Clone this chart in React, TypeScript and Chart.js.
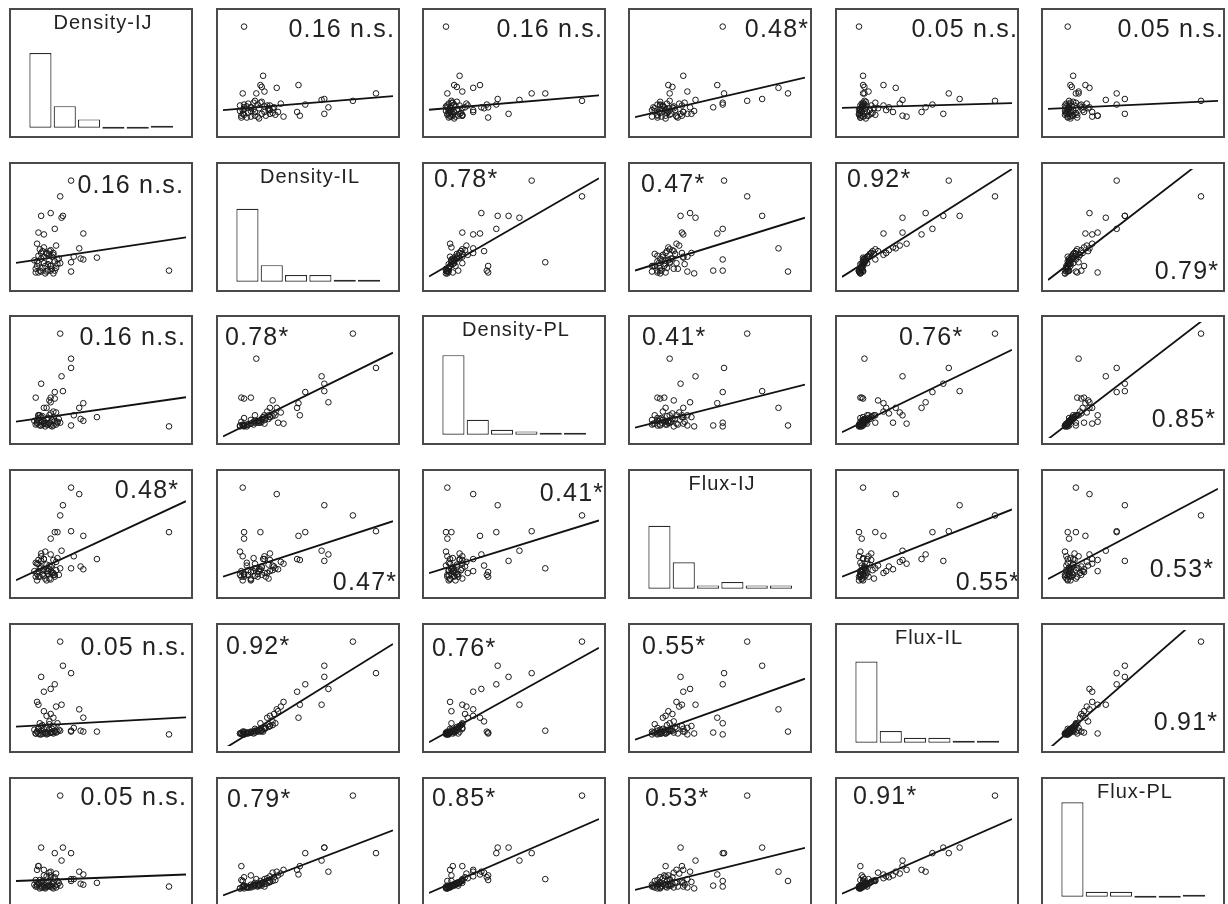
import React, { useEffect, useRef } from "react";
import { Chart, registerables } from "chart.js";

Chart.register(...registerables);

// ---------------- data ----------------
const VARIABLE_NAMES = ["Density-IJ", "Density-IL", "Density-PL", "Flux-IJ", "Flux-IL", "Flux-PL"];

// relative values (0 = site minimum, 100 = site maximum), one entry per site
const densityIJ = [100, 20, 28, 28, 28, 34, 22, 6, 16, 13, 8, 21, 37, 47, 30, 35, 4, 13, 18, 3, 8, 17, 13, 10, 15, 12, 16, 13, 2, 4, 37, 5, 7, 9, 11, 3, 6, 8, 12, 14, 10, 4, 15, 18, 2, 6, 9, 13, 16, 19, 7, 5, 11, 3, 8, 12, 14, 17, 20, 1, 10, 6, 15, 4];
const densityIL = [3, 83, 100, 12, 2, 27, 62, 62, 48, 65, 42, 60, 43, 17, 18, 16, 44, 3, 15, 32, 28, 30, 25, 22, 20, 24, 3, 8, 1, 1, 15, 3, 6, 8, 10, 13, 16, 11, 14, 18, 21, 19, 22, 10, 5, 2, 0, 8, 13, 16, 24, 26, 3, 8, 18, 21, 5, 6, 11, 14, 2, 22, 0, 11];
const densityPL = [0, 100, 63, 73, 1, 20, 38, 46, 37, 26, 20, 54, 25, 10, 12, 8, 12, 1, 4, 3, 4, 15, 14, 20, 16, 28, 30, 31, 31, 5, 6, 1, 2, 3, 2, 4, 5, 6, 4, 7, 8, 9, 10, 5, 2, 1, 0, 3, 6, 8, 11, 12, 9, 7, 3, 12, 0, 2, 4, 6, 2, 10, 1, 12];
const fluxIJ = [52, 70, 53, 13, 100, 93, 81, 21, 52, 28, 23, 32, 48, 23, 26, 15, 22, 45, 52, 18, 12, 20, 15, 10, 8, 16, 6, 9, 4, 10, 12, 4, 6, 2, 10, 7, 14, 5, 12, 8, 17, 4, 22, 24, 19, 26, 31, 1, 4, 6, 11, 13, 7, 0, 23, 2, 16, 11, 13, 10, 0, 29, 6, 18];
const fluxIL = [0, 100, 66, 4, 3, 27, 74, 62, 54, 49, 46, 32, 18, 3, 7, 4, 32, 2, 12, 35, 25, 30, 22, 20, 18, 14, 3, 2, 1, 1, 3, 0, 1, 2, 1, 3, 4, 2, 5, 6, 8, 7, 9, 3, 1, 0, 1, 2, 4, 5, 10, 12, 1, 3, 6, 11, 2, 2, 4, 5, 0, 9, 1, 6];
const fluxPL = [2, 100, 38, 10, 8, 18, 44, 44, 38, 18, 20, 30, 15, 6, 10, 5, 24, 3, 8, 20, 14, 16, 12, 13, 11, 17, 12, 14, 9, 24, 4, 0, 1, 1, 2, 2, 3, 4, 3, 5, 6, 5, 7, 4, 2, 1, 0, 2, 3, 6, 8, 9, 3, 4, 2, 8, 1, 1, 3, 4, 2, 7, 0, 6];

const VARIABLES = [densityIJ, densityIL, densityPL, fluxIJ, fluxIL, fluxPL];

// histogram counts per variable (6 equal-width classes)
const HIST_DENSITY_IJ = [45, 13, 5, 0, 0, 1];
const HIST_DENSITY_IL = [44, 10, 4, 4, 1, 1];
const HIST_DENSITY_PL = [48, 9, 3, 2, 1, 1];
const HIST_FLUX_IJ = [38, 16, 2, 4, 2, 2];
const HIST_FLUX_IL = [49, 7, 3, 3, 1, 1];
const HIST_FLUX_PL = [57, 3, 3, 0, 0, 1];
const HISTOGRAMS = [HIST_DENSITY_IJ, HIST_DENSITY_IL, HIST_DENSITY_PL, HIST_FLUX_IJ, HIST_FLUX_IL, HIST_FLUX_PL];
const HIST_CLASSES = [0, 1, 2, 3, 4, 5];

// correlation labels (row variable vs column variable)
const CORR_LABELS = [
  [null, "0.16 n.s.", "0.16 n.s.", "0.48*", "0.05 n.s.", "0.05 n.s."],
  ["0.16 n.s.", null, "0.78*", "0.47*", "0.92*", "0.79*"],
  ["0.16 n.s.", "0.78*", null, "0.41*", "0.76*", "0.85*"],
  ["0.48*", "0.47*", "0.41*", null, "0.55*", "0.53*"],
  ["0.05 n.s.", "0.92*", "0.76*", "0.55*", null, "0.91*"],
  ["0.05 n.s.", "0.79*", "0.85*", "0.53*", "0.91*", null],
];

// fitted line: y at the left edge (x = -12.5) and right edge (x = 112.5) of each panel
const FIT_Y_LEFT = [
  [null, 10, 10.4, 2.4, 12.5, 11.3],
  [11.3, null, -3.3, 3.1, -3.8, -7.1],
  [5.1, -10.9, null, -1.25, -6.25, -13.8],
  [0.25, 4.1, 7.9, null, 4.1, 1.5],
  [8.4, -16.3, -8.4, -5.75, null, -16.4],
  [8, -7.5, -4.9, -1.6, -5.75, null],
];
const FIT_Y_RIGHT = [
  [null, 25, 26, 45, 17.5, 20],
  [38.8, null, 102.5, 60, 112.5, 134.3],
  [31.4, 79.5, null, 45, 82.5, 127],
  [85.4, 63.8, 64.6, null, 76.5, 98.8],
  [18.3, 97.5, 93.3, 60, null, 143.5],
  [15, 62.5, 74.75, 43.75, 74.75, null],
];

// ---------------- layout ----------------
const AXIS_MIN = -12.5;
const AXIS_MAX = 112.5;
const COL_X = [9, 216, 422, 628, 835, 1041];
const ROW_Y = [8, 162, 315, 469, 623, 777];
const PANEL_W = 184;
const PANEL_H = 130;
const BORDER = 2;

// [anchor, horizontal margin, baseline offset (from top for t*, from bottom for b*)]
const LABEL_LAYOUT: any[][] = [
  [null, ["tr", 6, 29], ["tr", 4, 29], ["tr", 4, 29], ["tr", 2, 29], ["tr", 2, 29]],
  [["tr", 10, 31], null, ["tl", 12, 25], ["tl", 13, 30], ["tl", 12, 25], ["br", 7, 13]],
  [["tr", 8, 30], ["tl", 9, 30], null, ["tl", 14, 30], ["tl", 64, 30], ["br", 10, 18]],
  [["tr", 15, 29], ["br", 4, 9], ["tr", 3, 32], null, ["br", 0, 9], ["br", 12, 22]],
  [["tr", 7, 32], ["tl", 10, 31], ["tl", 10, 33], ["tl", 14, 31], null, ["br", 8, 23]],
  [["tr", 7, 28], ["tl", 11, 30], ["tl", 10, 29], ["tl", 17, 29], ["tl", 18, 27], null],
];

const FONT_FAMILY = '"Liberation Sans", Arial, sans-serif';
const INK = "#222";

function textPlugin(r: number, c: number) {
  return {
    id: "panelText",
    afterDatasetsDraw(chart: any) {
      const ctx = chart.ctx;
      const w = chart.width;
      const h = chart.height;
      ctx.save();
      ctx.fillStyle = INK;
      ctx.textBaseline = "alphabetic";
      if (r === c) {
        ctx.font = "20px " + FONT_FAMILY;
        (ctx as any).letterSpacing = "1px";
        ctx.textAlign = "center";
        ctx.fillText(VARIABLE_NAMES[r], w / 2 + 2, 21 - BORDER);
      } else {
        const label = CORR_LABELS[r][c] as string;
        const [anchor, mx, my] = LABEL_LAYOUT[r][c];
        const spacing = 1.2;
        ctx.font = "25px " + FONT_FAMILY;
        (ctx as any).letterSpacing = spacing + "px";
        let x: number;
        if (anchor === "tl") {
          ctx.textAlign = "left";
          x = mx - BORDER;
        } else {
          ctx.textAlign = "right";
          x = w - (mx - BORDER) + spacing;
        }
        const y = anchor[0] === "t" ? my - BORDER : h - (my - BORDER);
        ctx.fillText(label, x, y);
      }
      ctx.restore();
    },
  };
}

function Panel({ r, c }: { r: number; c: number }) {
  const ref = useRef<HTMLCanvasElement | null>(null);

  useEffect(() => {
    const canvas = ref.current;
    if (!canvas) return;
    let chart: Chart;
    const hiddenScale = (min: number, max: number) => ({
      type: "linear" as const,
      display: false,
      offset: false,
      grid: { offset: false, display: false },
      min,
      max,
    });

    if (r === c) {
      chart = new Chart(canvas, {
        type: "bar",
        data: {
          datasets: [
            {
              data: HIST_CLASSES.map((k) => ({ x: k, y: HISTOGRAMS[r][k] })),
              backgroundColor: "#ffffff",
              borderColor: "#2a2a2a",
              borderWidth: 1.2,
              borderSkipped: false,
              minBarLength: 2,
              categoryPercentage: 1,
              barPercentage: 0.91,
            },
          ],
        },
        options: {
          animation: false,
          responsive: false,
          maintainAspectRatio: false,
          layout: { padding: 0 },
          plugins: { legend: { display: false }, tooltip: { enabled: false }, title: { display: false } },
          scales: {
            x: hiddenScale(-1.21, 6.19),
            y: hiddenScale(-5, 71),
          },
        },
        plugins: [textPlugin(r, c)],
      } as any);
    } else {
      const xs = VARIABLES[c];
      const ys = VARIABLES[r];
      chart = new Chart(canvas, {
        type: "scatter",
        data: {
          datasets: [
            {
              data: xs.map((v, i) => ({ x: v, y: ys[i] })),
              pointRadius: 2.8,
              pointBorderWidth: 1,
              pointBorderColor: "#1a1a1a",
              pointBackgroundColor: "rgba(255,255,255,0)",
              showLine: false,
            },
            {
              type: "line",
              data: [
                { x: AXIS_MIN, y: FIT_Y_LEFT[r][c] as number },
                { x: AXIS_MAX, y: FIT_Y_RIGHT[r][c] as number },
              ],
              borderColor: "#111",
              borderWidth: 1.8,
              pointRadius: 0,
              fill: false,
              tension: 0,
            },
          ],
        },
        options: {
          animation: false,
          responsive: false,
          maintainAspectRatio: false,
          layout: { padding: 0 },
          plugins: { legend: { display: false }, tooltip: { enabled: false } },
          scales: {
            x: hiddenScale(AXIS_MIN, AXIS_MAX),
            y: hiddenScale(AXIS_MIN, AXIS_MAX),
          },
        },
        plugins: [textPlugin(r, c)],
      } as any);
    }
    return () => chart.destroy();
  }, [r, c]);

  return (
    <div
      style={{
        position: "absolute",
        left: COL_X[c],
        top: ROW_Y[r],
        width: PANEL_W,
        height: PANEL_H,
        boxSizing: "border-box",
        border: `${BORDER}px solid #4a4a4a`,
        background: "#fff",
      }}
    >
      <canvas
        ref={ref}
        width={PANEL_W - 2 * BORDER}
        height={PANEL_H - 2 * BORDER}
        style={{ display: "block", width: PANEL_W - 2 * BORDER, height: PANEL_H - 2 * BORDER }}
      />
    </div>
  );
}

export default function App() {
  const cells: React.ReactNode[] = [];
  for (let r = 0; r < 6; r++) {
    for (let c = 0; c < 6; c++) {
      cells.push(<Panel key={`${r}-${c}`} r={r} c={c} />);
    }
  }
  return (
    <div
      style={{
        position: "fixed",
        left: 0,
        top: 0,
        width: 1228,
        height: 904,
        overflow: "hidden",
        background: "#fff",
      }}
    >
      {cells}
    </div>
  );
}
